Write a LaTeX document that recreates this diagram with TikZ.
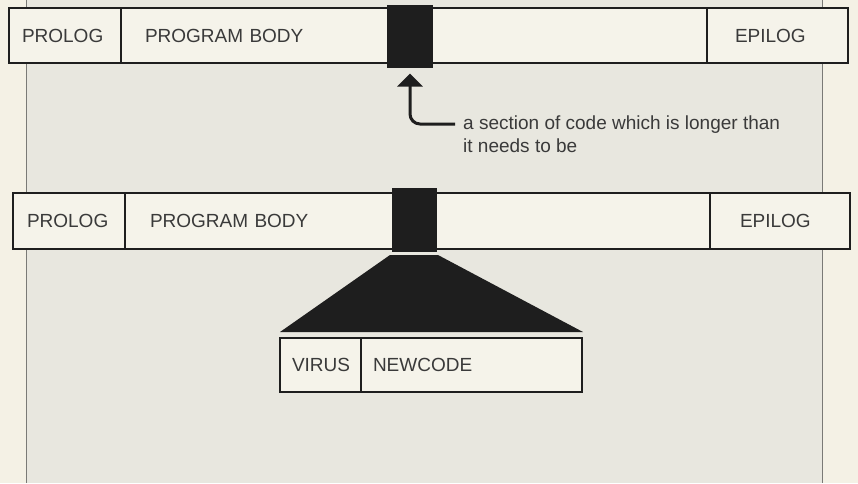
\documentclass[tikz,border=0pt]{standalone}
\usepackage{fontspec}
\setmainfont{Liberation Sans}
\usetikzlibrary{arrows.meta}
\definecolor{outerbg}{HTML}{F4F1E5}
\definecolor{panelbg}{HTML}{E8E7DF}
\definecolor{panelline}{HTML}{7A7A76}
\definecolor{boxfill}{HTML}{F5F3EA}
\definecolor{ink}{HTML}{1E1E1E}
\definecolor{txt}{HTML}{3A3A3A}
\begin{document}
\begin{tikzpicture}[x=1pt,y=-1pt,
  seg/.style={draw=ink, line width=2.3pt, fill=boxfill, anchor=west,
    inner ysep=0pt, outer sep=0pt, align=left, text=txt,
    font=\fontsize{19}{22}\selectfont},
  blk/.style={fill=ink, draw=none, inner sep=0pt, outer sep=0pt},
  note/.style={anchor=base west, inner sep=0pt, text=txt,
    font=\fontsize{19}{22}\selectfont},
  pointer/.style={draw=ink, line width=3pt, rounded corners=10pt,
    {Triangle[width=25pt,length=13pt]}-}
]
\useasboundingbox (0,0) rectangle (858,483);
\fill[outerbg] (0,0) rectangle (858,483);
\fill[panelbg] (26.5,0) rectangle (822,483);
\draw[panelline, line width=1pt] (26.5,0) -- (26.5,483);
\draw[panelline, line width=1pt] (822,0) -- (822,483);

% row 1
\node[seg, minimum height=55pt, text width=86pt, inner xsep=13pt] (p1) at (9,35.5) {PROLOG};
\node[seg, minimum height=55pt, text width=538pt, inner xsep=24pt] (b1) at (p1.east) {PROGRAM BODY};
\node[seg, minimum height=55pt, text width=85pt, inner xsep=28pt] (e1) at (b1.east) {EPILOG};
\node[blk, minimum width=46pt, minimum height=63pt] (k1) at (410,36) {};

% pointer and note
\node[note] (n1) at (463,129) {a section of code which is longer than};
\node[note] (n2) at (463,152) {it needs to be};
\coordinate (c1) at (455,124);
\draw[pointer, shorten <=6pt] (k1.south) |- (c1);

% row 2
\node[seg, minimum height=56pt, text width=84pt, inner xsep=14pt] (p2) at (13,221) {PROLOG};
\node[seg, minimum height=56pt, text width=535pt, inner xsep=25pt] (b2) at (p2.east) {PROGRAM BODY};
\node[seg, minimum height=56pt, text width=80pt, inner xsep=30pt] (e2) at (b2.east) {EPILOG};
\node[blk, minimum width=45pt, minimum height=64pt] (k2) at (414.5,220) {};

% row 3
\node[seg, minimum height=54pt, text width=57pt, inner xsep=12pt] (v) at (280,365) {VIRUS};
\node[seg, minimum height=54pt, text width=197pt, inner xsep=12pt] (nc) at (v.east) {NEWCODE};

% expansion wedge
\coordinate (w1) at (390,255);
\coordinate (w2) at (438,255);
\coordinate (w3) at (583,332);
\coordinate (w4) at (280,332);
\fill[ink] (w1) -- (w2) -- (w3) -- (w4) -- cycle;
\end{tikzpicture}
\end{document}
